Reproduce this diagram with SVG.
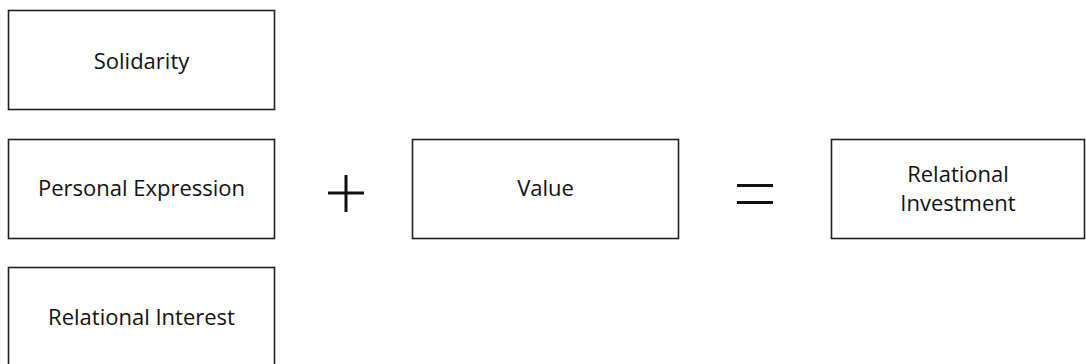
<svg xmlns="http://www.w3.org/2000/svg" width="1086" height="364" viewBox="0 0 1086 364">
<style>
.box{fill:#fff;stroke:#231f20;stroke-width:1.6}
.lbl{font-family:"Open Sans","Noto Sans","Liberation Sans",sans-serif;font-size:22px;fill:#111;text-anchor:middle}
.op{stroke:#111;stroke-width:3;fill:none}
</style>
<rect width="1086" height="364" fill="#fff"/>
<g id="solidarity"><rect class="box" x="8.5" y="10.5" width="266" height="99"/><text class="lbl" x="141.5" y="69">Solidarity</text></g>
<g id="personal-expression"><rect class="box" x="8.5" y="139.5" width="266" height="99"/><text class="lbl" x="141.5" y="196">Personal Expression</text></g>
<g id="relational-interest"><rect class="box" x="8.5" y="267.5" width="266" height="100"/><text class="lbl" x="141.5" y="325">Relational Interest</text></g>
<g id="plus"><path class="op" d="M328 193H364M346 175V212"/></g>
<g id="value"><rect class="box" x="412.5" y="139.5" width="266" height="99"/><text class="lbl" x="545.5" y="196">Value</text></g>
<g id="equals"><path class="op" d="M737 185.5H773M737 202.5H773"/></g>
<g id="relational-investment"><rect class="box" x="831.5" y="139.5" width="253" height="99"/><text class="lbl" x="958" y="182">Relational</text><text class="lbl" x="958" y="211">Investment</text></g>
<g id="connectors"/>
</svg>
